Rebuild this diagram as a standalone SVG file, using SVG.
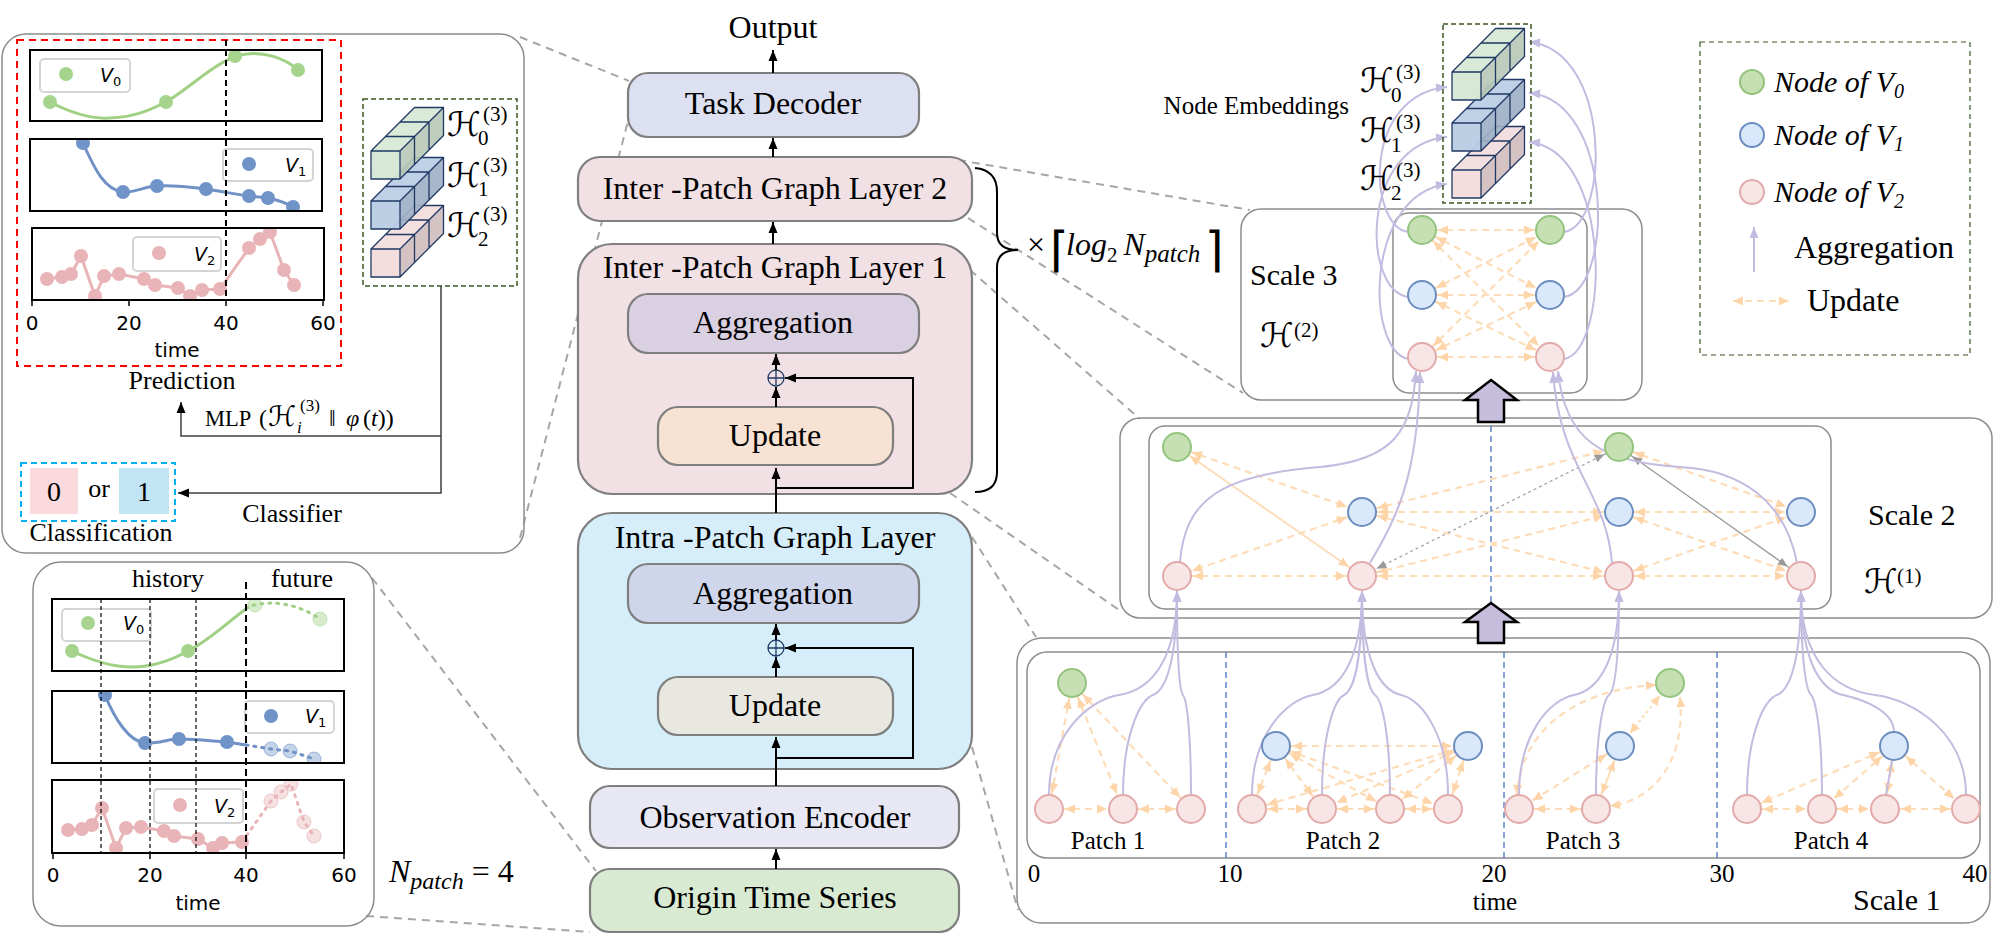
<svg xmlns="http://www.w3.org/2000/svg" xmlns:xlink="http://www.w3.org/1999/xlink" width="2004" height="936" viewBox="0 0 2004 936">
<defs>
<style>
.s{font-family:"Liberation Serif","DejaVu Serif",serif;fill:#000}
.si{font-family:"Liberation Serif","DejaVu Serif",serif;font-style:italic;fill:#000}
.d{font-family:"DejaVu Sans",sans-serif;fill:#000}
.di{font-family:"DejaVu Sans",sans-serif;font-style:italic;fill:#000}
.h{font-family:"DejaVu Serif","DejaVu Sans",serif;fill:#000}
.sub{font-family:"Liberation Serif","DejaVu Serif",serif}
.box{stroke:#7f7f7f;stroke-width:2.2}
.sc{fill:none;stroke:#8c8c8c;stroke-width:1.5}
.con{stroke:#a6a6a6;stroke-width:2;stroke-dasharray:8 6;fill:none}
.ar{stroke:#000;stroke-width:2;fill:none;marker-end:url(#ab)}
.thin{stroke:#404040;stroke-width:1.5;fill:none}
.upd{stroke:#fddcb8;stroke-width:2.2;stroke-dasharray:7 5;fill:none;marker-start:url(#mu);marker-end:url(#mu)}
.upds{stroke:#fddcb8;stroke-width:2;fill:none;marker-start:url(#mu);marker-end:url(#mu)}
.updd{stroke:#fddcb8;stroke-width:2;stroke-dasharray:3 3;fill:none;marker-start:url(#mu);marker-end:url(#mu)}
.updc{stroke:#fddcb8;stroke-width:2.2;stroke-dasharray:7 5;fill:none;marker-start:url(#mu0);marker-end:url(#mu0)}
.agg{stroke:#c3bbe0;stroke-width:2;fill:none;marker-end:url(#ma)}
.aggn{stroke:#c3bbe0;stroke-width:2;fill:none}
.ng{fill:#c6e0b4;stroke:#93c47d;stroke-width:2}
.nb{fill:#dae8fc;stroke:#6c8ebf;stroke-width:2}
.np{fill:#f8e6e6;stroke:#e3aaaa;stroke-width:2}
.div{stroke:#4472c4;stroke-width:1.3;stroke-dasharray:6 4}
.fr{fill:none;stroke:#000;stroke-width:2}
.lg{fill:#fff;stroke:#d4d4d4;stroke-width:2}
.gL{stroke:#9fd084;stroke-width:3;fill:none}
.bL{stroke:#6f91c6;stroke-width:3;fill:none}
.pL{stroke:#e8b4b7;stroke-width:3;fill:none}
.gP{fill:#a6d48d}
.bP{fill:#7093c8}
.pP{fill:#e8b4b7}
.blk{fill:#c5bddb;stroke:#000;stroke-width:2.5}
</style>
<marker id="ab" viewBox="-12 -6 12 12" refX="0" refY="0" markerWidth="12" markerHeight="12" markerUnits="userSpaceOnUse" orient="auto"><path d="M0,0 L-11,-4.5 L-11,4.5 Z" fill="#000"/></marker>
<marker id="mu" viewBox="-12 -6 12 12" refX="16" refY="0" markerWidth="12" markerHeight="12" markerUnits="userSpaceOnUse" orient="auto-start-reverse"><path d="M0,0 L-10,-4.5 L-10,4.5 Z" fill="#fdd5a8"/></marker>
<marker id="mu0" viewBox="-12 -6 12 12" refX="0" refY="0" markerWidth="12" markerHeight="12" markerUnits="userSpaceOnUse" orient="auto-start-reverse"><path d="M0,0 L-10,-4.5 L-10,4.5 Z" fill="#fdd5a8"/></marker>
<marker id="ma" viewBox="-12 -6 12 12" refX="0" refY="0" markerWidth="12" markerHeight="12" markerUnits="userSpaceOnUse" orient="auto"><path d="M0,0 L-11,-4.5 L-11,4.5 Z" fill="#c3bbe0"/></marker>
<marker id="mg" viewBox="-12 -6 12 12" refX="16" refY="0" markerWidth="12" markerHeight="12" markerUnits="userSpaceOnUse" orient="auto-start-reverse"><path d="M0,0 L-10,-4 L-10,4 Z" fill="#9a9a9a"/></marker>
<g id="bar">
<path d="M29,0 L72.5,-43.5 L72.5,-15.5 L29,28 Z" fill="currentColor" fill-opacity="0.9"/>
<path d="M29,0 L72.5,-43.5 L72.5,-15.5 L29,28 Z" fill="#000" fill-opacity="0.12"/>
<path d="M0,0 L43.5,-43.5 L72.5,-43.5 L29,0 Z" fill="currentColor" fill-opacity="0.9"/>
<rect width="29" height="28" fill="currentColor" fill-opacity="0.95"/>
<path d="M0,0 L43.5,-43.5 L72.5,-43.5 L72.5,-15.5 L29,28 L0,28 Z M0,0 L29,0 L72.5,-43.5 M29,0 L29,28 M14.5,-14.5 L43.5,-14.5 L43.5,13.5 M29,-29 L58,-29 L58,-1" fill="none" stroke="#1f3864" stroke-width="1.3" stroke-linejoin="round"/>
</g>
<g id="oplus"><circle r="8" fill="none" stroke="#1f3864" stroke-width="1.3"/><path d="M-8,0 H8 M0,-8 V8" stroke="#1f3864" stroke-width="1.3"/></g>
<clipPath id="c1"><rect x="30" y="50" width="292" height="71"/></clipPath>
<clipPath id="c2"><rect x="30" y="139" width="292" height="72"/></clipPath>
<clipPath id="c3"><rect x="32" y="228" width="292" height="72"/></clipPath>
<clipPath id="e1"><rect x="52" y="599" width="292" height="72"/></clipPath>
<clipPath id="e2"><rect x="52" y="691" width="292" height="72"/></clipPath>
<clipPath id="e3"><rect x="52" y="780" width="292" height="73"/></clipPath>
</defs>
<rect width="2004" height="936" fill="#fff"/>

<!-- zoom connectors -->
<g id="connectors-zoom">
<line class="con" x1="520" y1="37" x2="629" y2="81"/>
<line class="con" x1="520" y1="538" x2="628" y2="121"/>
<line class="con" x1="372" y1="578" x2="596" y2="871"/>
<line class="con" x1="366" y1="916" x2="590" y2="932"/>
<line class="con" x1="958" y1="160" x2="1250" y2="210"/>
<line class="con" x1="968" y1="218" x2="1243" y2="393"/>
<line class="con" x1="970" y1="270" x2="1140" y2="419"/>
<line class="con" x1="950" y1="493" x2="1122" y2="612"/>
<line class="con" x1="972" y1="537" x2="1036" y2="637"/>
<line class="con" x1="972" y1="747" x2="1018" y2="910"/>
</g>

<!-- top-left panel: output head -->
<g id="panel-output">
<rect x="2" y="34" width="522" height="519" rx="24" fill="none" stroke="#8c8c8c" stroke-width="1.5"/>
<rect x="17" y="40" width="324" height="326" fill="none" stroke="#ff0000" stroke-width="2" stroke-dasharray="7 5"/>
<g clip-path="url(#c1)">
<path class="gL" d="M50,102 C75,115 95,119 110,118 C135,117 150,110 166,102 C190,88 215,62 240,55 C262,50 285,58 298,70"/>
<circle class="gP" cx="50" cy="102" r="7"/><circle class="gP" cx="166" cy="102" r="7"/><circle class="gP" cx="235" cy="56" r="7"/><circle class="gP" cx="298" cy="70" r="7"/>
</g>
<g clip-path="url(#c2)">
<path class="bL" d="M83,143 C95,170 105,190 123,192 C135,193 145,186 157,186 C175,185 190,187 206,189 C225,192 240,195 249,196 L268,198 C278,200 288,204 293,207"/>
<circle class="bP" cx="83" cy="143" r="7"/><circle class="bP" cx="123" cy="192" r="7"/><circle class="bP" cx="157" cy="186" r="7"/><circle class="bP" cx="206" cy="189" r="7"/><circle class="bP" cx="249" cy="196" r="7"/><circle class="bP" cx="268" cy="198" r="7"/><circle class="bP" cx="293" cy="207" r="7"/>
</g>
<g clip-path="url(#c3)">
<polyline class="pL" points="47,279 62,277 71,274 81,256 95,296 104,276 119,274 144,279 155,285 178,288 190,296 202,290 220,289 249,248 260,239 270,232 284,270 294,285"/>
<g class="pP">
<circle cx="47" cy="279" r="7"/><circle cx="62" cy="277" r="7"/><circle cx="71" cy="274" r="7"/><circle cx="81" cy="256" r="7"/><circle cx="95" cy="296" r="7"/><circle cx="104" cy="276" r="7"/><circle cx="119" cy="274" r="7"/><circle cx="144" cy="279" r="7"/><circle cx="155" cy="285" r="7"/><circle cx="178" cy="288" r="7"/><circle cx="190" cy="296" r="7"/><circle cx="202" cy="290" r="7"/><circle cx="220" cy="289" r="7"/><circle cx="249" cy="248" r="7"/><circle cx="260" cy="239" r="7"/><circle cx="270" cy="232" r="7"/><circle cx="284" cy="270" r="7"/><circle cx="294" cy="285" r="7"/>
</g>
</g>
<rect class="lg" x="40" y="59" width="90" height="33" rx="4"/>
<circle class="gP" cx="66" cy="74" r="7"/>
<text class="di" x="100" y="82" font-size="19">V<tspan font-style="normal" font-size="13" dy="4">0</tspan></text>
<rect class="lg" x="223" y="149" width="90" height="32" rx="4"/>
<circle class="bP" cx="249" cy="164" r="7"/>
<text class="di" x="285" y="172" font-size="19">V<tspan font-style="normal" font-size="13" dy="4">1</tspan></text>
<rect class="lg" x="133" y="237" width="88" height="34" rx="4"/>
<circle class="pP" cx="159" cy="253" r="7"/>
<text class="di" x="194" y="261" font-size="19">V<tspan font-style="normal" font-size="13" dy="4">2</tspan></text>
<rect class="fr" x="30" y="50" width="292" height="71"/>
<rect class="fr" x="30" y="139" width="292" height="72"/>
<rect class="fr" x="32" y="228" width="292" height="72"/>
<line x1="226" y1="40" x2="226" y2="300" stroke="#000" stroke-width="2" stroke-dasharray="6 4"/>
<path d="M32,300 V306 M129,300 V306 M226,300 V306 M323,300 V306" stroke="#000" stroke-width="1.5"/>
<g class="d" font-size="20" text-anchor="middle">
<text x="32" y="330">0</text><text x="129" y="330">20</text><text x="226" y="330">40</text><text x="323" y="330">60</text>
<text x="177" y="357">time</text>
</g>
<text class="s" x="182" y="389" font-size="26" text-anchor="middle">Prediction</text>
<rect x="363" y="99" width="154" height="187" fill="none" stroke="#385723" stroke-width="1.5" stroke-dasharray="5 3"/>
<use href="#bar" x="371" y="249" color="#f2dcdb"/>
<use href="#bar" x="371" y="201" color="#b8cce4"/>
<use href="#bar" x="371" y="151" color="#d5e8d4"/>
<text class="h" x="447" y="136" font-size="34">ℋ<tspan class="sub" font-size="21" x="483" y="121">(3)</tspan><tspan class="sub" font-size="21" x="478" y="145">0</tspan></text>
<text class="h" x="447" y="187" font-size="34">ℋ<tspan class="sub" font-size="21" x="483" y="172">(3)</tspan><tspan class="sub" font-size="21" x="478" y="196">1</tspan></text>
<text class="h" x="447" y="237" font-size="34">ℋ<tspan class="sub" font-size="21" x="483" y="221">(3)</tspan><tspan class="sub" font-size="21" x="478" y="246">2</tspan></text>
<polyline class="thin" points="441,286 441,493 178,493" marker-end="url(#ab)"/>
<polyline class="thin" points="441,436 181,436 181,402" marker-end="url(#ab)"/>
<text class="s" x="205" y="426" font-size="22.5">MLP<tspan font-size="24" x="259">(</tspan><tspan class="h" font-size="28" x="268">ℋ</tspan><tspan font-style="italic" font-size="17" x="297" y="433">i</tspan><tspan font-size="17" x="300" y="411">(3)</tspan><tspan font-size="24" x="329" y="426">‖</tspan><tspan font-size="24" font-style="italic" x="346">φ</tspan><tspan font-size="24" x="363">(</tspan><tspan font-size="24" font-style="italic">t</tspan><tspan font-size="24">))</tspan></text>
<rect x="21" y="463" width="154" height="58" fill="none" stroke="#00b0f0" stroke-width="2" stroke-dasharray="6 4"/>
<rect x="30" y="468" width="48" height="46" fill="#fadadd"/>
<rect x="119" y="468" width="50" height="46" fill="#c1e5f5"/>
<text class="s" x="54" y="501" font-size="28" text-anchor="middle">0</text>
<text class="s" x="99" y="497" font-size="26" text-anchor="middle">or</text>
<text class="s" x="144" y="501" font-size="28" text-anchor="middle">1</text>
<text class="s" x="101" y="541" font-size="26" text-anchor="middle">Classification</text>
<text class="s" x="292" y="522" font-size="26" text-anchor="middle">Classifier</text>
</g>

<!-- bottom-left panel: input series -->
<g id="panel-input">
<rect x="33" y="562" width="341" height="364" rx="28" fill="none" stroke="#8c8c8c" stroke-width="1.5"/>
<text class="s" x="168" y="587" font-size="26" text-anchor="middle">history</text>
<text class="s" x="302" y="587" font-size="26" text-anchor="middle">future</text>
<g clip-path="url(#e1)">
<path class="gL" d="M72,651 C95,662 115,667 132,667 C155,667 172,660 188,651 C210,640 230,620 246,609"/>
<path class="gL" stroke-dasharray="2 6" stroke-linecap="round" d="M246,609 C250,606 252,605 255,605 C275,600 300,605 320,619"/>
<circle class="gP" cx="72" cy="651" r="7"/><circle class="gP" cx="188" cy="651" r="7"/>
<circle cx="255" cy="605" r="7" fill="#a6d48d" fill-opacity="0.45" stroke="#a6d48d" stroke-opacity="0.6"/>
<circle cx="320" cy="619" r="7" fill="#a6d48d" fill-opacity="0.45" stroke="#a6d48d" stroke-opacity="0.6"/>
</g>
<g clip-path="url(#e2)">
<path class="bL" d="M105,695 C115,720 130,742 145,743 C158,744 168,739 179,739 C195,739 212,741 227,742 L246,745"/>
<polyline class="bL" stroke-dasharray="2 6" stroke-linecap="round" points="246,745 271,749 290,751 314,759"/>
<circle class="bP" cx="105" cy="695" r="7"/><circle class="bP" cx="145" cy="743" r="7"/><circle class="bP" cx="179" cy="739" r="7"/><circle class="bP" cx="227" cy="742" r="7"/>
<circle cx="271" cy="749" r="7" fill="#7093c8" fill-opacity="0.4" stroke="#7093c8" stroke-opacity="0.6"/>
<circle cx="290" cy="751" r="7" fill="#7093c8" fill-opacity="0.4" stroke="#7093c8" stroke-opacity="0.6"/>
<circle cx="314" cy="759" r="7" fill="#7093c8" fill-opacity="0.4" stroke="#7093c8" stroke-opacity="0.6"/>
</g>
<g clip-path="url(#e3)">
<polyline class="pL" points="68,830 82,829 92,825 102,808 116,848 126,828 141,827 164,831 174,836 198,839 213,848 222,843 242,842"/>
<polyline class="pL" stroke-dasharray="2 6" stroke-linecap="round" points="242,842 271,801 281,792 291,784 304,822 314,836"/>
<g class="pP">
<circle cx="68" cy="830" r="7"/><circle cx="82" cy="829" r="7"/><circle cx="92" cy="825" r="7"/><circle cx="102" cy="808" r="7"/><circle cx="116" cy="848" r="7"/><circle cx="126" cy="828" r="7"/><circle cx="141" cy="827" r="7"/><circle cx="164" cy="831" r="7"/><circle cx="174" cy="836" r="7"/><circle cx="198" cy="839" r="7"/><circle cx="213" cy="848" r="7"/><circle cx="222" cy="843" r="7"/><circle cx="242" cy="842" r="7"/>
</g>
<g fill="#e8b4b7" fill-opacity="0.4" stroke="#e8b4b7" stroke-opacity="0.7">
<circle cx="271" cy="801" r="7"/><circle cx="281" cy="792" r="7"/><circle cx="291" cy="784" r="7"/><circle cx="304" cy="822" r="7"/><circle cx="314" cy="836" r="7"/>
</g>
</g>
<rect class="lg" x="62" y="609" width="89" height="32" rx="4"/>
<circle class="gP" cx="88" cy="623" r="7"/>
<text class="di" x="123" y="630" font-size="19">V<tspan font-style="normal" font-size="13" dy="4">0</tspan></text>
<rect class="lg" x="245" y="701" width="89" height="32" rx="4"/>
<circle class="bP" cx="271" cy="716" r="7"/>
<text class="di" x="305" y="723" font-size="19">V<tspan font-style="normal" font-size="13" dy="4">1</tspan></text>
<rect class="lg" x="154" y="789" width="89" height="34" rx="4"/>
<circle class="pP" cx="180" cy="805" r="7"/>
<text class="di" x="214" y="813" font-size="19">V<tspan font-style="normal" font-size="13" dy="4">2</tspan></text>
<rect class="fr" x="52" y="599" width="292" height="72"/>
<rect class="fr" x="52" y="691" width="292" height="72"/>
<rect class="fr" x="52" y="780" width="292" height="73"/>
<path d="M101,599 V853 M150,599 V853 M196,599 V853" stroke="#000" stroke-width="1.2" stroke-dasharray="4 3"/>
<line x1="246" y1="582" x2="246" y2="853" stroke="#000" stroke-width="2" stroke-dasharray="7 4"/>
<path d="M53,853 V859 M150,853 V859 M246,853 V859 M344,853 V859" stroke="#000" stroke-width="1.5"/>
<g class="d" font-size="20" text-anchor="middle">
<text x="53" y="882">0</text><text x="150" y="882">20</text><text x="246" y="882">40</text><text x="344" y="882">60</text>
<text x="198" y="910">time</text>
</g>
<text class="si" x="389" y="882" font-size="32">N<tspan font-size="24" dy="7">patch</tspan><tspan font-style="normal" dy="-7"> = 4</tspan></text>
</g>

<!-- middle column -->
<g id="output-label"><text class="s" x="773" y="38" font-size="32" text-anchor="middle">Output</text></g>
<g id="task-decoder"><rect class="box" x="628" y="73" width="291" height="64" rx="20" fill="#dde0f0"/><text class="s" x="773" y="114" font-size="32" text-anchor="middle">Task Decoder</text></g>
<g id="inter-layer-2"><rect class="box" x="578" y="157" width="394" height="64" rx="22" fill="#f2e1e4"/><text class="s" x="775" y="199" font-size="32" text-anchor="middle">Inter -Patch Graph Layer 2</text></g>
<g id="inter-layer-1">
<rect class="box" x="578" y="244" width="394" height="250" rx="34" fill="#f2e1e4"/>
<text class="s" x="775" y="278" font-size="32" text-anchor="middle">Inter -Patch Graph Layer 1</text>
<rect class="box" x="628" y="294" width="291" height="59" rx="20" fill="#d9d0e1"/>
<text class="s" x="773" y="333" font-size="32" text-anchor="middle">Aggregation</text>
<rect class="box" x="658" y="407" width="235" height="58" rx="20" fill="#f7e2d4"/>
<text class="s" x="775" y="446" font-size="32" text-anchor="middle">Update</text>
<use href="#oplus" x="776" y="378"/>
</g>
<g id="intra-layer">
<rect class="box" x="578" y="513" width="394" height="256" rx="34" fill="#d6eef9"/>
<text class="s" x="775" y="548" font-size="32" text-anchor="middle">Intra -Patch Graph Layer</text>
<rect class="box" x="628" y="564" width="291" height="59" rx="20" fill="#cfd6eb"/>
<text class="s" x="773" y="604" font-size="32" text-anchor="middle">Aggregation</text>
<rect class="box" x="658" y="677" width="235" height="58" rx="20" fill="#e8e8e0"/>
<text class="s" x="775" y="716" font-size="32" text-anchor="middle">Update</text>
<use href="#oplus" x="776" y="648"/>
</g>
<g id="obs-encoder"><rect class="box" x="590" y="786" width="369" height="62" rx="20" fill="#e8e8f5"/><text class="s" x="775" y="828" font-size="32" text-anchor="middle">Observation Encoder</text></g>
<g id="origin-series"><rect class="box" x="590" y="869" width="369" height="63" rx="20" fill="#d9ead3"/><text class="s" x="775" y="908" font-size="32" text-anchor="middle">Origin Time Series</text></g>
<g id="repeat-brace">
<path d="M975,168 Q997,170 997,192 L997,233 Q997,250 1018,250 Q997,250 997,267 L997,472 Q997,492 975,492" fill="none" stroke="#000" stroke-width="2"/>
<text class="s" x="1027" y="255" font-size="32">×</text>
<text class="d" x="1050" y="266" font-size="48">⌈</text>
<text class="si" x="1066" y="255" font-size="32">log<tspan font-style="normal" font-size="21" dy="7">2</tspan><tspan dx="6" dy="-7">N</tspan><tspan font-size="25" dy="7">patch</tspan></text>
<text class="d" x="1205" y="266" font-size="48">⌉</text>
</g>

<!-- middle column arrows -->
<g id="connectors-main">
<line class="ar" x1="773" y1="73" x2="773" y2="50"/>
<line class="ar" x1="773" y1="157" x2="773" y2="138"/>
<line class="ar" x1="773" y1="244" x2="773" y2="222"/>
<line class="ar" x1="776" y1="407" x2="776" y2="387"/>
<line class="ar" x1="776" y1="370" x2="776" y2="354"/>
<polyline class="ar" stroke-width="1.6" points="776,488 913,488 913,378 785,378"/>
<line class="ar" x1="776" y1="513" x2="776" y2="468"/>
<line class="ar" x1="776" y1="677" x2="776" y2="657"/>
<line class="ar" x1="776" y1="640" x2="776" y2="624"/>
<polyline class="ar" stroke-width="1.6" points="776,758 913,758 913,648 785,648"/>
<line class="ar" x1="776" y1="786" x2="776" y2="737"/>
<line class="ar" x1="776" y1="869" x2="776" y2="849"/>
</g>

<!-- scale frames -->
<g id="scale-3-frame">
<rect class="sc" x="1241" y="209" width="401" height="191" rx="20"/>
<rect class="sc" x="1393" y="213" width="194" height="180" rx="16"/>
<text class="s" x="1250" y="285" font-size="30">Scale 3</text>
<text class="h" x="1260" y="347" font-size="34">ℋ<tspan class="sub" font-size="21" x="1294" y="337">(2)</tspan></text>
</g>
<g id="scale-2-frame">
<rect class="sc" x="1120" y="418" width="872" height="200" rx="20"/>
<rect class="sc" x="1149" y="426" width="682" height="183" rx="16"/>
<line class="div" x1="1491" y1="426" x2="1491" y2="609"/>
<text class="s" x="1868" y="525" font-size="30">Scale 2</text>
<text class="h" x="1864" y="593" font-size="34">ℋ<tspan class="sub" font-size="21" x="1897" y="583">(1)</tspan></text>
</g>
<g id="scale-1-frame">
<rect class="sc" x="1017" y="638" width="973" height="285" rx="25"/>
<rect class="sc" x="1027" y="652" width="953" height="206" rx="20"/>
<line class="div" x1="1226" y1="652" x2="1226" y2="858"/>
<line class="div" x1="1504" y1="652" x2="1504" y2="858"/>
<line class="div" x1="1717" y1="652" x2="1717" y2="858"/>
<g class="s" font-size="25" text-anchor="middle">
<text x="1108" y="849">Patch 1</text><text x="1343" y="849">Patch 2</text><text x="1583" y="849">Patch 3</text><text x="1831" y="849">Patch 4</text>
<text x="1034" y="882">0</text><text x="1230" y="882">10</text><text x="1494" y="882">20</text><text x="1722" y="882">30</text><text x="1975" y="882">40</text>
<text x="1495" y="910">time</text>
</g>
<text class="s" x="1853" y="910" font-size="30">Scale 1</text>
</g>

<!-- graph edges -->
<g id="connectors-graph">
<line class="upd" x1="1422" y1="230" x2="1550" y2="230"/>
<line class="upd" x1="1422" y1="230" x2="1550" y2="295"/>
<line class="upd" x1="1422" y1="230" x2="1550" y2="357"/>
<line class="upd" x1="1422" y1="295" x2="1550" y2="230"/>
<line class="upd" x1="1422" y1="295" x2="1550" y2="295"/>
<line class="upd" x1="1422" y1="295" x2="1550" y2="357"/>
<line class="upd" x1="1422" y1="357" x2="1550" y2="230"/>
<line class="upd" x1="1422" y1="357" x2="1550" y2="295"/>
<line class="upd" x1="1422" y1="357" x2="1550" y2="357"/>
<path class="agg" d="M1408,232 C1368,226 1362,95 1447,87"/>
<path class="agg" d="M1408,297 C1362,290 1360,145 1447,137"/>
<path class="agg" d="M1408,359 C1366,350 1364,195 1447,184"/>
<path class="agg" d="M1564,232 C1610,225 1612,50 1529,42"/>
<path class="agg" d="M1564,297 C1614,290 1614,100 1529,93"/>
<path class="agg" d="M1564,359 C1610,350 1612,150 1529,142"/>
<line class="upd" x1="1177" y1="447" x2="1362" y2="512"/>
<line class="upd" x1="1362" y1="512" x2="1177" y2="576"/>
<line class="upd" x1="1362" y1="512" x2="1619" y2="447"/>
<line class="upd" x1="1362" y1="512" x2="1619" y2="512"/>
<line class="upd" x1="1362" y1="512" x2="1619" y2="576"/>
<line class="upd" x1="1177" y1="576" x2="1362" y2="576"/>
<line class="upd" x1="1362" y1="576" x2="1619" y2="576"/>
<line class="upd" x1="1362" y1="576" x2="1619" y2="512"/>
<line class="upd" x1="1619" y1="447" x2="1801" y2="512"/>
<line class="upd" x1="1619" y1="512" x2="1801" y2="512"/>
<line class="upd" x1="1619" y1="512" x2="1801" y2="576"/>
<line class="upd" x1="1619" y1="576" x2="1801" y2="512"/>
<line class="upd" x1="1619" y1="576" x2="1801" y2="576"/>
<line class="upds" x1="1362" y1="576" x2="1177" y2="447"/>
<line x1="1362" y1="576" x2="1619" y2="447" stroke="#a6a6a6" stroke-width="1.3" stroke-dasharray="3 3" marker-start="url(#mg)" marker-end="url(#mg)"/>
<line x1="1619" y1="447" x2="1801" y2="576" stroke="#9a9a9a" stroke-width="1.3" marker-start="url(#mg)" marker-end="url(#mg)"/>
<path class="agg" d="M1180,562 C1185,500 1220,475 1320,467 C1395,460 1412,430 1416,371"/>
<path class="agg" d="M1370,563 C1395,520 1418,480 1420,372"/>
<path class="agg" d="M1612,563 C1606,490 1560,470 1553,372"/>
<path class="agg" d="M1797,563 C1785,500 1740,470 1680,467 C1600,462 1565,440 1558,371"/>
<line class="upd" x1="1072" y1="683" x2="1049" y2="809"/>
<line class="upd" x1="1072" y1="683" x2="1123" y2="809"/>
<line class="upd" x1="1072" y1="683" x2="1191" y2="809"/>
<line class="upd" x1="1049" y1="809" x2="1123" y2="809"/>
<line class="upd" x1="1123" y1="809" x2="1191" y2="809"/>
<line class="upd" x1="1276" y1="746" x2="1468" y2="746"/>
<line class="upd" x1="1276" y1="746" x2="1252" y2="809"/>
<line class="upd" x1="1276" y1="746" x2="1322" y2="809"/>
<line class="upd" x1="1276" y1="746" x2="1390" y2="809"/>
<line class="upd" x1="1276" y1="746" x2="1448" y2="809"/>
<line class="upd" x1="1468" y1="746" x2="1252" y2="809"/>
<line class="upd" x1="1468" y1="746" x2="1322" y2="809"/>
<line class="upd" x1="1468" y1="746" x2="1390" y2="809"/>
<line class="upd" x1="1468" y1="746" x2="1448" y2="809"/>
<line class="upd" x1="1252" y1="809" x2="1322" y2="809"/>
<line class="upd" x1="1322" y1="809" x2="1390" y2="809"/>
<line class="upd" x1="1390" y1="809" x2="1448" y2="809"/>
<line class="upd" x1="1620" y1="746" x2="1519" y2="809"/>
<line class="upds" x1="1620" y1="746" x2="1596" y2="809"/>
<line class="updd" x1="1620" y1="746" x2="1670" y2="683"/>
<line class="upd" x1="1519" y1="809" x2="1596" y2="809"/>
<path class="updc" d="M1656,685 C1590,688 1522,720 1517,795"/>
<path class="updc" d="M1680,697 C1686,760 1655,800 1610,806"/>
<line class="upd" x1="1894" y1="746" x2="1747" y2="809"/>
<line class="upd" x1="1894" y1="746" x2="1822" y2="809"/>
<line class="upd" x1="1894" y1="746" x2="1885" y2="809"/>
<line class="upd" x1="1894" y1="746" x2="1966" y2="809"/>
<line class="upd" x1="1747" y1="809" x2="1822" y2="809"/>
<line class="upd" x1="1822" y1="809" x2="1885" y2="809"/>
<line class="upd" x1="1885" y1="809" x2="1966" y2="809"/>
<path class="agg" d="M1049,795 C1049,735 1088,700 1119,695 C1151,690 1177,660 1177,591"/>
<path class="agg" d="M1123,795 C1123,735 1140,700 1153,695 C1166,690 1177,660 1177,591"/>
<path class="agg" d="M1191,795 C1191,735 1187,700 1183,695 C1179,690 1177,660 1177,591"/>
<path class="agg" d="M1252,795 C1252,735 1286,700 1313,695 C1340,690 1362,660 1362,591"/>
<path class="agg" d="M1322,795 C1322,735 1334,700 1344,695 C1354,690 1362,660 1362,591"/>
<path class="agg" d="M1390,795 C1390,735 1382,700 1375,695 C1368,690 1362,660 1362,591"/>
<path class="agg" d="M1448,795 C1448,735 1422,700 1401,695 C1380,690 1362,660 1362,591"/>
<path class="agg" d="M1519,795 C1519,735 1549,700 1574,695 C1599,690 1619,660 1619,591"/>
<path class="agg" d="M1596,795 C1596,735 1603,700 1609,695 C1615,690 1619,660 1619,591"/>
<path class="agg" d="M1747,795 C1747,735 1764,700 1777,695 C1790,690 1801,660 1801,591"/>
<path class="agg" d="M1822,795 C1822,735 1816,700 1811,695 C1806,690 1801,660 1801,591"/>
<path class="agg" d="M1894,732 C1894,712 1866,700 1843,695 C1820,690 1801,660 1801,591"/>
<path class="agg" d="M1966,795 C1966,735 1916,700 1875,695 C1834,690 1801,660 1801,591"/>
<path class="aggn" d="M1886,795 L1892,761"/>
</g>

<!-- block arrows -->
<g id="scale-arrows">
<polygon class="blk" points="1491,380 1517,400 1504,400 1504,422 1478,422 1478,400 1465,400"/>
<polygon class="blk" points="1491,603 1517,622 1504,622 1504,643 1478,643 1478,622 1465,622"/>
</g>

<!-- nodes -->
<g id="scale3-nodes">
<circle class="ng" cx="1422" cy="230" r="14"/><circle class="ng" cx="1550" cy="230" r="14"/>
<circle class="nb" cx="1422" cy="295" r="14"/><circle class="nb" cx="1550" cy="295" r="14"/>
<circle class="np" cx="1422" cy="357" r="14"/><circle class="np" cx="1550" cy="357" r="14"/>
</g>
<g id="scale2-nodes">
<circle class="ng" cx="1177" cy="447" r="14"/><circle class="ng" cx="1619" cy="447" r="14"/>
<circle class="nb" cx="1362" cy="512" r="14"/><circle class="nb" cx="1619" cy="512" r="14"/><circle class="nb" cx="1801" cy="512" r="14"/>
<circle class="np" cx="1177" cy="576" r="14"/><circle class="np" cx="1362" cy="576" r="14"/><circle class="np" cx="1619" cy="576" r="14"/><circle class="np" cx="1801" cy="576" r="14"/>
</g>
<g id="scale1-nodes">
<circle class="ng" cx="1072" cy="683" r="14"/>
<circle class="np" cx="1049" cy="809" r="14"/><circle class="np" cx="1123" cy="809" r="14"/><circle class="np" cx="1191" cy="809" r="14"/>
<circle class="nb" cx="1276" cy="746" r="14"/><circle class="nb" cx="1468" cy="746" r="14"/>
<circle class="np" cx="1252" cy="809" r="14"/><circle class="np" cx="1322" cy="809" r="14"/><circle class="np" cx="1390" cy="809" r="14"/><circle class="np" cx="1448" cy="809" r="14"/>
<circle class="np" cx="1519" cy="809" r="14"/><circle class="np" cx="1596" cy="809" r="14"/>
<circle class="nb" cx="1620" cy="746" r="14"/><circle class="ng" cx="1670" cy="683" r="14"/>
<circle class="np" cx="1747" cy="809" r="14"/><circle class="np" cx="1822" cy="809" r="14"/><circle class="np" cx="1885" cy="809" r="14"/><circle class="np" cx="1966" cy="809" r="14"/>
<circle class="nb" cx="1894" cy="746" r="14"/>
</g>

<!-- node embeddings -->
<g id="node-embeddings">
<rect x="1443" y="24" width="88" height="179" fill="none" stroke="#385723" stroke-width="1.5" stroke-dasharray="5 3"/>
<use href="#bar" x="1452" y="170" color="#f2dcdb"/>
<use href="#bar" x="1452" y="123" color="#b8cce4"/>
<use href="#bar" x="1452" y="72" color="#d5e8d4"/>
<text class="s" x="1349" y="114" font-size="25" text-anchor="end">Node Embeddings</text>
<text class="h" x="1360" y="92" font-size="34">ℋ<tspan class="sub" font-size="21" x="1396" y="79">(3)</tspan><tspan class="sub" font-size="21" x="1391" y="102">0</tspan></text>
<text class="h" x="1360" y="142" font-size="34">ℋ<tspan class="sub" font-size="21" x="1396" y="129">(3)</tspan><tspan class="sub" font-size="21" x="1391" y="152">1</tspan></text>
<text class="h" x="1360" y="190" font-size="34">ℋ<tspan class="sub" font-size="21" x="1396" y="177">(3)</tspan><tspan class="sub" font-size="21" x="1391" y="200">2</tspan></text>
</g>

<!-- legend -->
<g id="legend">
<rect x="1700" y="42" width="270" height="313" fill="none" stroke="#385723" stroke-width="1.2" stroke-dasharray="5 4"/>
<circle class="ng" cx="1752" cy="82" r="12"/>
<circle class="nb" cx="1752" cy="135" r="12"/>
<circle class="np" cx="1752" cy="192" r="12"/>
<text class="si" x="1774" y="92" font-size="30">Node of V<tspan font-size="20" dy="6">0</tspan></text>
<text class="si" x="1774" y="145" font-size="30">Node of V<tspan font-size="20" dy="6">1</tspan></text>
<text class="si" x="1774" y="202" font-size="30">Node of V<tspan font-size="20" dy="6">2</tspan></text>
<line x1="1754" y1="272" x2="1754" y2="227" stroke="#c3bbe0" stroke-width="2" marker-end="url(#ma)"/>
<text class="s" x="1794" y="258" font-size="32">Aggregation</text>
<line x1="1733" y1="301" x2="1789" y2="301" stroke="#fddcb8" stroke-width="2.2" stroke-dasharray="7 5" marker-start="url(#mu0)" marker-end="url(#mu0)"/>
<text class="s" x="1807" y="311" font-size="32">Update</text>
</g>
</svg>
